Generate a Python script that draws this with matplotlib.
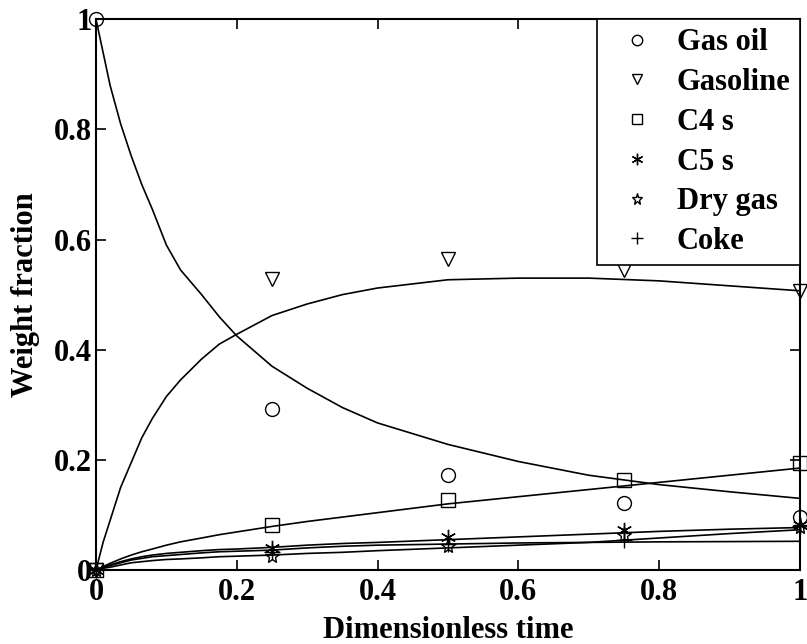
import matplotlib
matplotlib.use('Agg')
from matplotlib import pyplot as plt

plt.rcParams['font.family'] = ['Liberation Serif', 'DejaVu Serif']

# measured data points
t_data = [0, 0.25, 0.5, 0.75, 1.0]
gas_oil = [1.0, 0.292, 0.172, 0.121, 0.096]
gasoline = [0.0, 0.529, 0.564, 0.544, 0.506]
c4s = [0.0, 0.082, 0.127, 0.163, 0.195]
c5s = [0.0, 0.040, 0.060, 0.073, 0.082]
dry_gas = [0.0, 0.025, 0.043, 0.063, 0.078]
coke = [0.0, 0.032, 0.048, 0.055, 0.08]

# model curves
t_model = [0, 0.01, 0.02, 0.035, 0.05, 0.065, 0.08, 0.1, 0.12, 0.15, 0.175,
           0.2, 0.25, 0.3, 0.35, 0.4, 0.5, 0.6, 0.7, 0.8, 0.9, 1.0]
gas_oil_fit = [1.0, 0.94, 0.88, 0.81, 0.752, 0.70, 0.655, 0.59, 0.545, 0.50,
               0.46, 0.425, 0.37, 0.33, 0.295, 0.267, 0.228, 0.197, 0.172,
               0.155, 0.142, 0.13]
gasoline_fit = [0.0, 0.05, 0.09, 0.15, 0.195, 0.24, 0.275, 0.315, 0.345,
                0.383, 0.41, 0.428, 0.462, 0.483, 0.50, 0.512, 0.527, 0.530,
                0.530, 0.525, 0.516, 0.507]
c4s_fit = [0.0, 0.006, 0.012, 0.02, 0.027, 0.033, 0.038, 0.045, 0.051, 0.058,
           0.064, 0.069, 0.079, 0.088, 0.096, 0.104, 0.12, 0.133, 0.146, 0.159,
           0.172, 0.185]
c5s_fit = [0.0, 0.005, 0.009, 0.015, 0.020, 0.024, 0.027, 0.030, 0.032, 0.035,
           0.037, 0.038, 0.041, 0.045, 0.048, 0.050, 0.055, 0.060, 0.065,
           0.070, 0.074, 0.077]
dry_gas_fit = [0.0, 0.003, 0.005, 0.009, 0.013, 0.015, 0.017, 0.019, 0.020,
               0.022, 0.024, 0.025, 0.027, 0.030, 0.032, 0.035, 0.040, 0.045,
               0.050, 0.058, 0.066, 0.073]
coke_fit = [0.0, 0.004, 0.008, 0.013, 0.018, 0.021, 0.024, 0.026, 0.028,
            0.031, 0.033, 0.034, 0.036, 0.040, 0.043, 0.045, 0.047, 0.049,
            0.050, 0.051, 0.0515, 0.052]

labels = ['Gas oil', 'Gasoline', 'C4 s', 'C5 s', 'Dry gas', 'Coke']
markers = ['o', 'v', 's', (6, 2, 0), '*', '+']
sizes = [10, 10, 10, 11, 11, 12]
series = [gas_oil, gasoline, c4s, c5s, dry_gas, coke]
fits = [gas_oil_fit, gasoline_fit, c4s_fit, c5s_fit, dry_gas_fit, coke_fit]

fig = plt.figure(figsize=(8.07, 6.44), dpi=100)
ax = fig.add_axes([0.119, 0.115, 0.872, 0.855])

for f in fits:
    ax.plot(t_model, f, color='black', linewidth=1.2)

for y, lab, m, s in zip(series, labels, markers, sizes):
    ax.plot(t_data, y, linestyle='none', marker=m, markersize=s,
            markerfacecolor='none', markeredgecolor='black',
            markeredgewidth=1.0, label=lab, clip_on=False)

ax.set_xlim(0, 1)
ax.set_ylim(0, 1)
ax.set_xticks([0, 0.2, 0.4, 0.6, 0.8, 1])
ax.set_xticklabels(['0', '0.2', '0.4', '0.6', '0.8', '1'])
ax.set_yticks([0, 0.2, 0.4, 0.6, 0.8, 1])
ax.set_yticklabels(['0', '0.2', '0.4', '0.6', '0.8', '1'])
ax.tick_params(direction='in', length=7, width=1.2, top=True, right=True,
               labelsize=22)
ax.tick_params(axis='x', pad=6)
ax.tick_params(axis='y', pad=3)
for lbl in ax.get_xticklabels() + ax.get_yticklabels():
    lbl.set_fontweight('bold')
for sp in ax.spines.values():
    sp.set_linewidth(1.5)

ax.set_xlabel('Dimensionless time', fontsize=22, fontweight='bold', labelpad=6)
ax.set_ylabel('Weight fraction', fontsize=22, fontweight='bold', labelpad=10)

leg = ax.legend(loc='upper right', frameon=True, fancybox=False,
                prop={'size': 22, 'weight': 'bold'},
                edgecolor='black', framealpha=1, markerscale=0.75,
                borderaxespad=0, handletextpad=0.3, labelspacing=0.35,
                borderpad=0.3, handlelength=2.0)
leg.get_frame().set_linewidth(1.2)
leg.set_zorder(5)

plt.savefig('out.png', dpi=100)
